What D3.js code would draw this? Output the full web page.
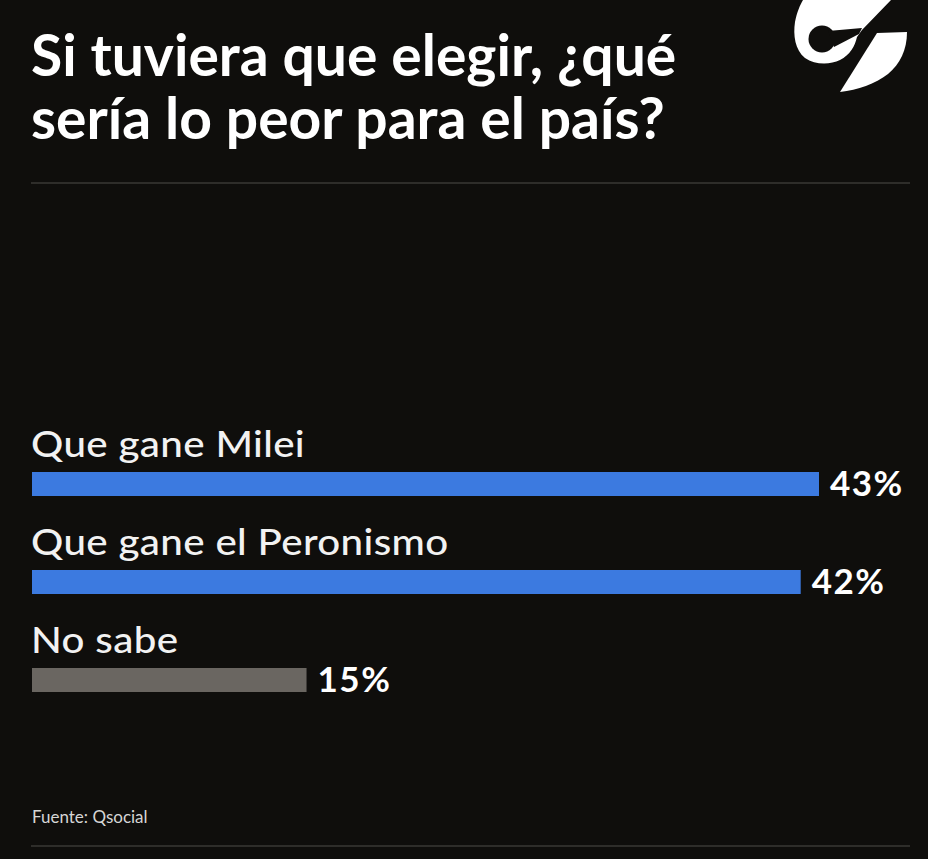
<!DOCTYPE html>
<html>
<head>
<meta charset="utf-8">
<script src="https://cdn.jsdelivr.net/npm/d3@7"></script>
<style>
  html, body { margin: 0; padding: 0; background: #0f0e0c; }
  svg { display: block; }
  text { font-family: Lato, "Noto Sans", sans-serif; }
</style>
</head>
<body>
<svg id="chart"></svg>
<script>
const titleLines = ["Si tuviera que elegir, ¿qué", "sería lo peor para el país?"];
const categories = ["Que gane Milei", "Que gane el Peronismo", "No sabe"];
const values = [43, 42, 15];
const barColors = ["#3c7ae0", "#3c7ae0", "#6a6661"];
const source = "Fuente: Qsocial";

const W = 928, H = 859;
const svg = d3.select("#chart").attr("width", W).attr("height", H);

svg.append("rect").attr("width", W).attr("height", H).attr("fill", "#0f0e0c");

// title: one text, two lines, squeezed horizontally for the condensed look
const title = svg.append("text")
  .attr("fill", "#ffffff")
  .style("font-size", "57px")
  .style("font-weight", 700);
title.selectAll("tspan")
  .data(titleLines)
  .enter().append("tspan")
  .attr("x", 0)
  .attr("y", (d, i) => i * 63)
  .text(d => d);
const tw = title.select("tspan").node().getComputedTextLength();
const sx = Math.min(1, 646 / tw);
title.attr("transform", `translate(31,76) scale(${sx},1)`);

// logo
const logo = svg.append("g");
logo.append("path")
  .attr("d", "M803,0 L891,0 L862,30 L857,37 C855,46 850,55 840,60 C830,65 815,65 805,58 C795,50 793,35 795,22 C797,12 800,5 803,0 Z")
  .attr("fill", "#ffffff");
logo.append("circle").attr("cx", 822).attr("cy", 39).attr("r", 13.5).attr("fill", "#0f0e0c");
logo.append("path")
  .attr("d", "M828,31 L862,28 L859,34 L834,47 Z")
  .attr("fill", "#0f0e0c");
logo.append("path")
  .attr("d", "M877,33 L907,32 C907,50 900,64 888,74 C875,84 858,90 840,92 Z")
  .attr("fill", "#ffffff");

// rules
svg.append("line").attr("x1", 31).attr("x2", 910).attr("y1", 183).attr("y2", 183)
  .attr("stroke", "#3a3935").attr("stroke-width", 1.5);
svg.append("line").attr("x1", 31).attr("x2", 910).attr("y1", 846).attr("y2", 846)
  .attr("stroke", "#3a3935").attr("stroke-width", 1.5);

// scales
const x = d3.scaleLinear().domain([0, 43]).range([32, 819]);
const y = d3.scalePoint().domain(categories).range([472, 668]);
const barH = 24;

const rows = svg.selectAll(".row")
  .data(categories)
  .enter().append("g")
  .attr("class", "row");

rows.append("rect")
  .attr("x", x(0))
  .attr("y", d => y(d))
  .attr("width", (d, i) => x(values[i]) - x(0))
  .attr("height", barH)
  .attr("fill", (d, i) => barColors[i]);

// category labels, a little widened
rows.append("text")
  .attr("transform", d => `translate(31,${y(d) - 15}) scale(1.12,1)`)
  .attr("fill", "#f2f2f2")
  .style("font-size", "36px")
  .style("font-weight", 500)
  .style("letter-spacing", "0.3px")
  .text(d => d);

rows.append("text")
  .attr("x", (d, i) => x(values[i]) + 11)
  .attr("y", d => y(d) + barH)
  .attr("fill", "#ffffff")
  .style("font-size", "35px")
  .style("font-weight", 700)
  .style("letter-spacing", "1.5px")
  .text((d, i) => values[i] + "%");

svg.append("text")
  .attr("x", 32)
  .attr("y", 823)
  .attr("fill", "#d6d6d6")
  .style("font-size", "17px")
  .text(source);
</script>
</body>
</html>
